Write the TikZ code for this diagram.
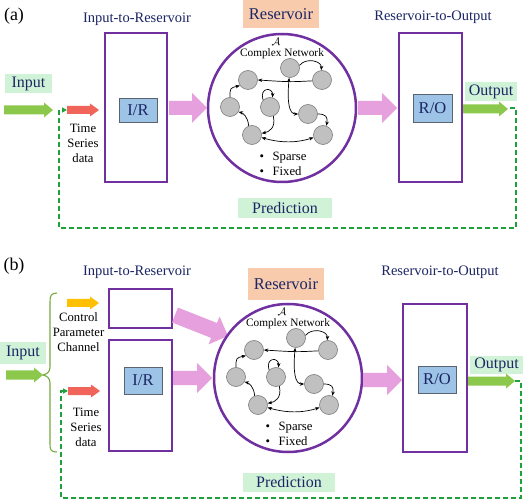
\documentclass[tikz,border=0pt]{standalone}
\usepackage{fontspec}
\setmainfont{Liberation Serif}
\usetikzlibrary{arrows.meta}
\definecolor{navy}{RGB}{28,38,100}
\definecolor{purp}{RGB}{112,48,160}
\definecolor{irblue}{RGB}{157,195,230}
\definecolor{irborder}{RGB}{90,100,110}
\definecolor{lgreen}{RGB}{208,243,216}
\definecolor{peach}{RGB}{248,203,173}
\definecolor{pinka}{RGB}{230,160,222}
\definecolor{greena}{RGB}{140,200,75}
\definecolor{reda}{RGB}{240,100,90}
\definecolor{yella}{RGB}{255,192,0}
\definecolor{dgreen}{RGB}{30,160,60}
\definecolor{ngray}{RGB}{192,192,192}
\definecolor{ngrayd}{RGB}{125,125,125}
% #1 x0, #2 x1, #3 y, #4 shaft half, #5 head half, #6 head length, #7 colour
\newcommand\blkarrow[7]{%
  \fill[#7] (#1,#3-#4) -- (#2-#6,#3-#4) -- (#2-#6,#3-#5) -- (#2,#3)
    -- (#2-#6,#3+#5) -- (#2-#6,#3+#4) -- (#1,#3+#4) -- cycle;}
\newcommand\netw[1]{%
  \node[nnode] (#1n1) at (248,80) {};
  \node[nnode] (#1n2) at (290,68) {};
  \node[nnode] (#1n3) at (322,80) {};
  \node[nnode] (#1n4) at (230,107) {};
  \node[nnode] (#1n5) at (270,107) {};
  \node[nnode] (#1n6) at (308,114) {};
  \node[nnode] (#1n7) at (252,135) {};
  \node[nnode] (#1n8) at (323,135) {};
  \draw[narr] (#1n2.15) .. controls (306,57) and (322,61) .. (#1n3.95);
  \draw[narr] (#1n3.185) .. controls (290,82) .. (#1n1.east);
  \draw[narr] (#1n4.north) .. controls (230,88) .. (#1n1.215);
  \draw[narr] (#1n5.135) .. controls (259,87) and (273,87) .. (#1n5.75);
  \draw[narr2] (#1n2.265) .. controls (287,102) and (289,114) .. (#1n6.west);
  \draw[narr] (#1n6.east) .. controls (326,114) and (328,117) .. (#1n8.70);
  \draw[narr] (#1n5.290) .. controls (276,128) and (269,132) .. (#1n7.10);
  \draw[narr] (#1n7.110) .. controls (248,117) and (243,113) .. (#1n4.330);
  \draw[narr2] (#1n7.-15) .. controls (284,144) and (300,142) .. (#1n8.195);
  \node[netfont] (#1A) at (276,42) {$\mathcal{A}$};
  \node[netfont] (#1cn) at (282,54) {Complex Network};
  \node[bulfont, anchor=west, align=left] (#1bul) at (259.5,163.5)
    {\textbullet\hspace{8.5pt}Sparse\\\textbullet\hspace{8.5pt}Fixed};
}
\begin{document}
\begin{tikzpicture}[x=1pt,y=-1pt,
  outerbox/.style={draw=purp, line width=2.3pt, inner sep=0pt},
  innerbox/.style={draw=irborder, line width=0.8pt, fill=irblue, inner sep=0pt,
    font=\fontsize{16.5}{18}\selectfont, text=navy},
  greenlab/.style={fill=lgreen, inner sep=0pt, font=\fontsize{16}{18}\selectfont, text=navy},
  peachlab/.style={fill=peach, inner sep=0pt, font=\fontsize{16.5}{18}\selectfont, text=navy},
  headfont/.style={inner sep=0pt, font=\fontsize{14.5}{17}\selectfont, text=navy},
  panelfont/.style={inner sep=0pt, font=\fontsize{18}{20}\selectfont},
  smallfont/.style={inner sep=0pt, align=center, font=\fontsize{12.7}{15}\selectfont},
  netfont/.style={inner sep=0pt, font=\fontsize{11.3}{13}\selectfont},
  bulfont/.style={inner sep=0pt, font=\fontsize{12.7}{15}\selectfont},
  ringnode/.style={circle, draw=purp, line width=2.5pt, inner sep=0pt, minimum size=148pt},
  nnode/.style={circle, fill=ngray, draw=ngrayd, line width=0.6pt, inner sep=0pt, minimum size=19pt},
  narr/.style={line width=0.7pt, -{Stealth[length=4.5pt,width=3.5pt]}},
  narr2/.style={line width=0.7pt, {Stealth[length=4.5pt,width=3.5pt]}-{Stealth[length=4.5pt,width=3.5pt]}},
  dashline/.style={draw=dgreen, line width=1.6pt, dash pattern=on 5pt off 3pt,
    -{Triangle[length=5pt,width=5pt]}},
  ]
\useasboundingbox (0,0) rectangle (523,500);
\fill[white] (0,0) rectangle (523,500);

% ================= panel (a) =================
\node[panelfont] (pa) at (14,16) {(a)};
\node[headfont] (h1a) at (137,19) {Input-to-Reservoir};
\node[outerbox, minimum width=62pt, minimum height=149pt] (irA) at (136,107.5) {};
\node[innerbox, minimum width=38pt, minimum height=24pt] (irinA) at (138,110) {I/R};
\node[greenlab, minimum width=47pt, minimum height=19pt] (inA) at (28.5,83.5) {Input};
\blkarrow{4}{53}{110}{4.5}{7.5}{9}{greena}
\blkarrow{67}{99}{110}{4}{6.5}{9}{reda}
\node[smallfont] (tsA) at (83,143) {Time\\Series\\data};
\blkarrow{169}{207}{108}{7}{15}{15}{pinka}
\node[peachlab, minimum width=76pt, minimum height=28pt] (resA) at (281,14) {Reservoir};
\node[ringnode] (ringA) at (282,108) {};
\netw{a}
\blkarrow{358}{397}{108}{7}{15}{15}{pinka}
\node[headfont] (h2a) at (433,17) {Reservoir-to-Output};
\node[outerbox, minimum width=63pt, minimum height=149pt] (roA) at (430.5,107.5) {};
\node[innerbox, minimum width=39pt, minimum height=28pt] (roinA) at (432.5,108) {R/O};
\node[greenlab, minimum width=52pt, minimum height=19pt] (outA) at (491,92) {Output};
\blkarrow{463}{508}{109}{4.5}{7.5}{9}{greena}
\node[greenlab, minimum width=94pt, minimum height=20pt] (predA) at (285,208) {Prediction};
\coordinate (oa) at (510,108);
\coordinate (cra) at (516,228);
\coordinate (cla) at (59,228);
\coordinate (fa) at (67,110);
\draw[dashline] (oa) -| (cra) -- (cla) |- (fa);

% ================= panel (b) =================
\node[panelfont] (pb) at (14,266) {(b)};
\node[headfont] (h1b) at (137,272) {Input-to-Reservoir};
\node[outerbox, minimum width=63pt, minimum height=39pt] (cpB) at (140.5,308.5) {};
\node[outerbox, minimum width=63pt, minimum height=111pt] (irB) at (140.5,395.5) {};
\node[innerbox, minimum width=38pt, minimum height=27pt] (irinB) at (143,380.5) {I/R};
\blkarrow{67}{99}{303}{4}{6.5}{9}{yella}
\node[smallfont] (cpt) at (78.5,332) {Control\\Parameter\\Channel};
\draw[draw=greena!85!black, line width=1.1pt]
  (57,293) .. controls (51,293) and (50,296) .. (50,302) -- (50,367)
  .. controls (50,372) and (47,374) .. (43,375)
  .. controls (47,376) and (50,378) .. (50,383) -- (50,444)
  .. controls (50,450) and (51,452) .. (57,452);
\node[greenlab, minimum width=46pt, minimum height=22pt] (inB) at (23,353) {Input};
\blkarrow{6}{43}{375}{4.5}{7.5}{9}{greena}
\blkarrow{68}{100}{391}{4}{6.5}{9}{reda}
\node[smallfont] (tsB) at (86,427) {Time\\Series\\data};
\blkarrow{173}{212}{378}{7}{15}{15}{pinka}
\begin{scope}[shift={(175,315)}, rotate=-21.6]
  \blkarrow{0}{57}{0}{8}{15}{15}{pinka}
\end{scope}
\node[peachlab, minimum width=76pt, minimum height=32pt] (resB) at (286,284) {Reservoir};
\node[ringnode] (ringB) at (288,378) {};
\begin{scope}[shift={(6,270)}]
\netw{b}
\end{scope}
\blkarrow{363}{402}{380}{7}{15}{15}{pinka}
\node[headfont] (h2b) at (440,272) {Reservoir-to-Output};
\node[outerbox, minimum width=64pt, minimum height=148pt] (roB) at (435,378) {};
\node[innerbox, minimum width=38pt, minimum height=27pt] (roinB) at (437,379.5) {R/O};
\node[greenlab, minimum width=53pt, minimum height=18pt] (outB) at (496.5,365) {Output};
\blkarrow{468}{515}{381}{4.5}{7.5}{9}{greena}
\node[greenlab, minimum width=92pt, minimum height=19pt] (predB) at (289,482.5) {Prediction};
\coordinate (ob) at (515,381);
\coordinate (crb) at (521,498);
\coordinate (clb) at (61,498);
\coordinate (fb) at (68,391);
\draw[dashline] (ob) -| (crb) -- (clb) |- (fb);
\end{tikzpicture}
\end{document}
